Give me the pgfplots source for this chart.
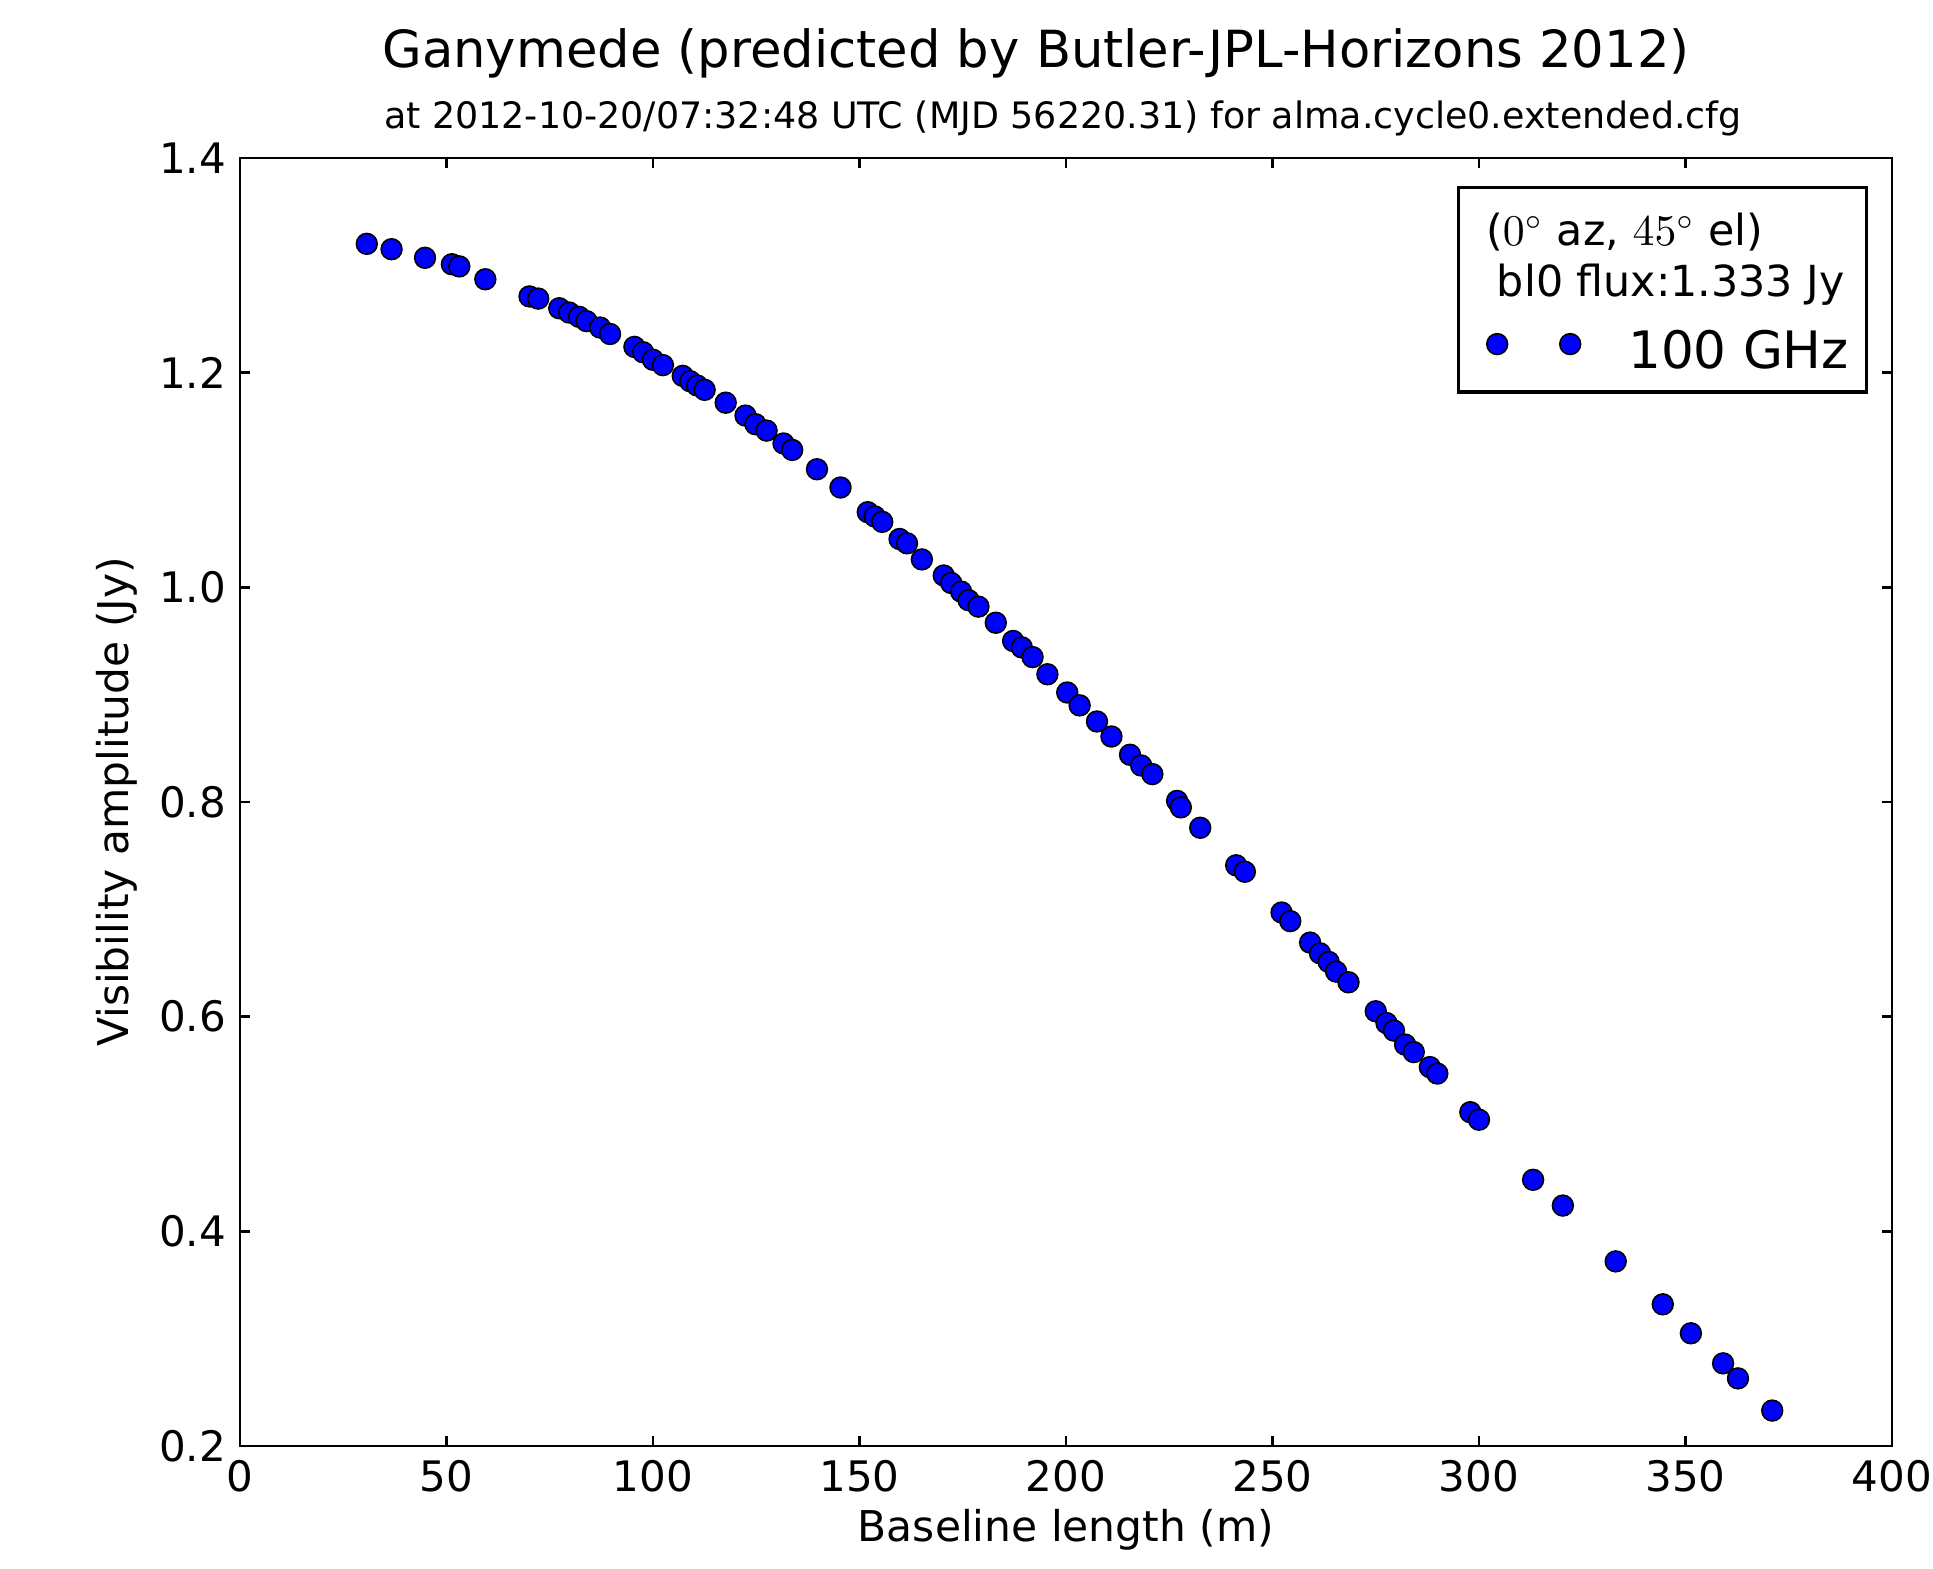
\documentclass[border=0pt]{standalone}
\usepackage{fontspec}
\setmainfont{DejaVu Sans}
\usepackage{pgfplots}
\pgfplotsset{compat=1.18}
\begin{document}
\begin{tikzpicture}
\begin{axis}[
  scale only axis,
  width=413pt, height=322pt,
  xmin=0, xmax=400, ymin=0.2, ymax=1.4,
  xtick={0,50,...,400},
  ytick={0.2,0.4,...,1.4},
  yticklabel style={/pgf/number format/fixed, /pgf/number format/fixed zerofill, /pgf/number format/precision=1},
  /pgf/number format/assume math mode=true,
  tick align=inside,
  major tick length=2.5pt,
  minor tick num=0,
  axis line style={line width=0.7pt},
  every tick/.style={black, line width=0.6pt},
  tick label style={font=\fontsize{10.5}{12}\selectfont},
  label style={font=\fontsize{10.6}{12}\selectfont},
  xlabel={Baseline length (m)},
  ylabel={Visibility amplitude (Jy)},
  xlabel style={at={(axis description cs:0.5,-0.0738)}, anchor=base},
  ylabel style={at={(axis description cs:-0.0745,0.5)}, anchor=center},
  legend style={at={(rel axis cs:1,1)}, anchor=north east, xshift=-5.9pt, yshift=-7pt,
    draw=black, line width=0.8pt, inner xsep=0pt, inner ysep=3pt,
    cells={anchor=west}, nodes={inner sep=1.5pt},
    /tikz/every odd column/.style={column sep=8pt}},
  legend image code/.code={
    \path[draw=none, fill=none] (0pt,-2pt) rectangle (33pt,2pt);
    \draw[#1] plot coordinates {(9.75pt,0pt) (28pt,0pt)};
  },
]
\addlegendimage{empty legend}
\addlegendentry{\fontsize{10.7}{12}\selectfont\rule{0pt}{10pt}\hspace*{-35.5pt}($0^\circ$ az, $45^\circ$ el)}
\addlegendimage{empty legend}
\addlegendentry{\fontsize{10.7}{12}\selectfont\rule[-6pt]{0pt}{11pt}\hspace*{-32.8pt}bl0 flux:1.333 Jy\hspace*{4pt}}
\addplot[only marks, mark=*, mark size=2.6pt, mark options={fill=blue, draw=black, line width=0.4pt}] coordinates {
(30.7,1.320) (36.7,1.315) (44.8,1.307) (51.3,1.301) (53.1,1.299) (59.4,1.287)
(70.1,1.271) (72.2,1.269) (77.3,1.260) (79.7,1.256) (82.1,1.252) (83.9,1.248)
(87.2,1.242) (89.6,1.236) (95.5,1.224) (97.6,1.219) (100.0,1.212) (102.4,1.207)
(107.2,1.197) (109.0,1.192) (110.7,1.188) (112.5,1.184) (117.6,1.172) (122.4,1.160)
(124.8,1.152) (127.5,1.146) (131.6,1.134) (133.7,1.128) (139.7,1.110) (145.4,1.093)
(152.0,1.070) (153.7,1.066) (155.5,1.061) (159.7,1.045) (161.5,1.041) (165.1,1.026)
(170.4,1.011) (172.2,1.004) (174.6,0.996) (176.4,0.988) (178.8,0.982) (183.0,0.967)
(187.2,0.950) (189.3,0.944) (191.9,0.935) (195.5,0.919) (200.3,0.902) (203.3,0.890)
(207.5,0.875) (211.0,0.861) (215.5,0.844) (218.2,0.834) (220.9,0.826) (226.9,0.801)
(227.8,0.795) (232.5,0.776) (241.2,0.741) (243.3,0.735) (252.2,0.697) (254.3,0.689)
(259.1,0.669) (261.5,0.659) (263.6,0.651) (265.4,0.642) (268.4,0.632) (275.0,0.605)
(277.6,0.594) (279.4,0.587) (282.1,0.574) (284.2,0.567) (288.1,0.553) (289.9,0.547)
(297.9,0.511) (300.0,0.504) (313.1,0.448) (320.3,0.424) (333.1,0.372) (344.5,0.332)
(351.3,0.305) (359.1,0.277) (362.7,0.263) (371.0,0.233)
};
\addlegendentry{\fontsize{12.9}{15}\selectfont\rule{0pt}{13.5pt}100 GHz}
\end{axis}
\node[anchor=base, font=\fontsize{12.8}{14}\selectfont] at ([xshift=-7.5pt, yshift=22.5pt]current axis.north) {Ganymede (predicted by Butler-JPL-Horizons 2012)};
\node[anchor=base, font=\fontsize{9.1}{10}\selectfont] at ([xshift=-0.75pt, yshift=7.25pt]current axis.north) {at 2012-10-20/07:32:48 UTC (MJD 56220.31) for alma.cycle0.extended.cfg};
\pgfresetboundingbox
\path ([shift={(-60pt,-30.75pt)}]current axis.south west) rectangle ([shift={(10.25pt,39.5pt)}]current axis.north east);
\end{tikzpicture}
\end{document}
